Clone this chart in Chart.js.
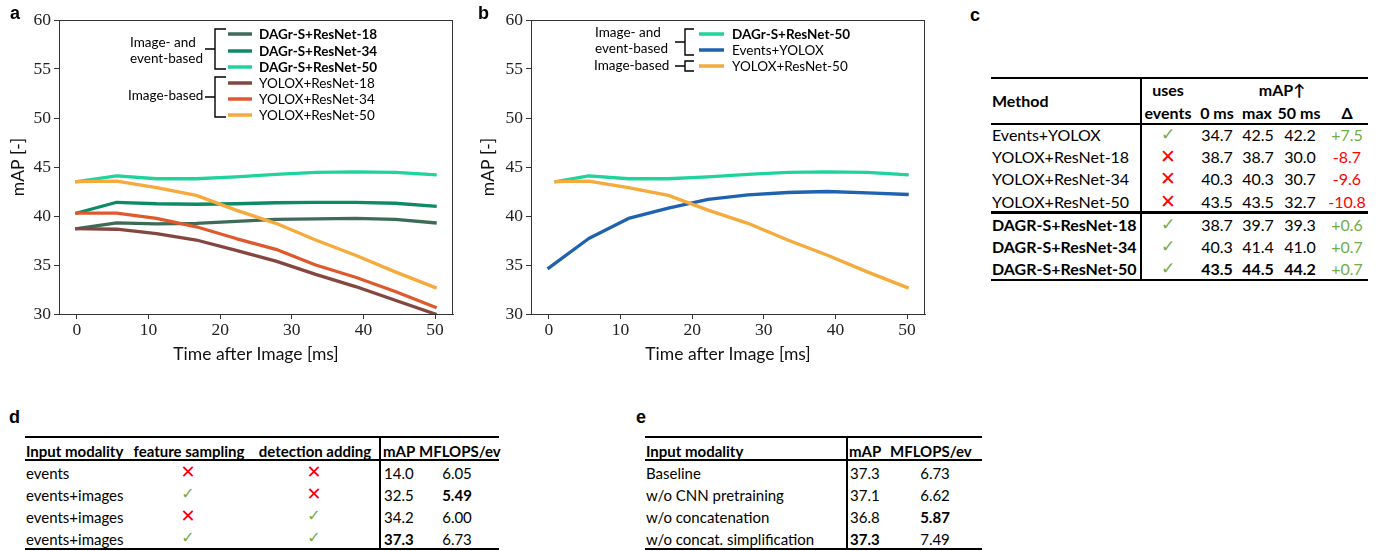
<!DOCTYPE html>
<html><head><meta charset="utf-8">
<script src="https://cdn.jsdelivr.net/npm/chart.js@4.4.0/dist/chart.umd.min.js"></script>
<style>
html,body{margin:0;padding:0;background:#fff}
body{width:1381px;height:551px;overflow:hidden;position:relative;font-family:Lato,"Open Sans",sans-serif;color:#000}
canvas{position:absolute;top:0}
.t{position:absolute;white-space:nowrap;line-height:1;transform:translateY(-50%)}
.c{transform:translate(-50%,-50%)}
.b{font-weight:bold}
.ln{position:absolute;background:#000}
.lbl{position:absolute;font-family:"Liberation Sans",Arial,sans-serif;font-weight:bold;font-size:18px;line-height:1;transform:translateY(-50%)}
.ok{color:#70ad47;font-family:"DejaVu Sans",sans-serif}
.no{color:#ff0000;font-family:"DejaVu Sans",sans-serif}
</style>
</head><body>
<canvas id="ca" width="470" height="372" style="left:0px"></canvas>
<canvas id="cb" width="470" height="372" style="left:470px"></canvas>
<div id="tables"></div>
<script>
// ---------------- DATA ----------------
const timeTicks = [0, 10, 20, 30, 40, 50];
const mapTicks = [30, 35, 40, 45, 50, 55, 60];
const times = [0, 5.56, 11.11, 16.67, 22.22, 27.78, 33.33, 38.89, 44.44, 50];
const timesBShifted = [1, 5.56, 11.11, 16.67, 22.22, 27.78, 33.33, 38.89, 44.44, 50];
const dagrResNet18 = [38.7, 39.3, 39.2, 39.25, 39.45, 39.65, 39.7, 39.75, 39.65, 39.3];
const dagrResNet34 = [40.3, 41.4, 41.25, 41.2, 41.25, 41.35, 41.4, 41.4, 41.3, 41.0];
const dagrResNet50 = [43.5, 44.1, 43.8, 43.8, 44.0, 44.25, 44.45, 44.5, 44.45, 44.2];
const yoloxResNet18 = [38.7, 38.65, 38.2, 37.55, 36.5, 35.4, 34.05, 32.8, 31.4, 30.0];
const yoloxResNet34 = [40.3, 40.3, 39.75, 38.9, 37.7, 36.6, 35.0, 33.75, 32.3, 30.7];
const yoloxResNet50 = [43.5, 43.55, 42.9, 42.1, 40.6, 39.25, 37.55, 36.0, 34.3, 32.7];
const eventsYolox = [34.7, 37.7, 39.75, 40.8, 41.7, 42.15, 42.4, 42.5, 42.35, 42.2];

// table c
const tcMethods = ['Events+YOLOX','YOLOX+ResNet-18','YOLOX+ResNet-34','YOLOX+ResNet-50','DAGR-S+ResNet-18','DAGR-S+ResNet-34','DAGR-S+ResNet-50'];
const tcUsesEvents = [true,false,false,false,true,true,true];
const tcMap0 = ['34.7','38.7','40.3','43.5','38.7','40.3','43.5'];
const tcMapMax = ['42.5','38.7','40.3','43.5','39.7','41.4','44.5'];
const tcMap50 = ['42.2','30.0','30.7','32.7','39.3','41.0','44.2'];
const tcDelta = ['+7.5','-8.7','-9.6','-10.8','+0.6','+0.7','+0.7'];
// table d
const tdModality = ['events','events+images','events+images','events+images'];
const tdFeatureSampling = [false,true,false,true];
const tdDetectionAdding = [false,false,true,true];
const tdMap = ['14.0','32.5','34.2','37.3'];
const tdMflops = ['6.05','5.49','6.00','6.73'];
// table e
const teVariant = ['Baseline','w/o CNN pretraining','w/o concatenation','w/o concat. simplification'];
const teMap = ['37.3','37.1','36.8','37.3'];
const teMflops = ['6.73','6.62','5.87','7.49'];

// ---------------- COLOURS ----------------
const C = {
  d18:'#3e6b58', d34:'#0f8a66', d50:'#20d29b',
  y18:'#84463f', y34:'#e0592e', y50:'#f5aa3b', ev:'#1f62b0'
};

// ---------------- PLUGINS ----------------
const frame = {
  id:'frame',
  afterDatasetsDraw(chart){
    const {ctx, chartArea:a} = chart;
    ctx.save();
    ctx.strokeStyle='#333'; ctx.lineWidth=1;
    ctx.strokeRect(Math.round(a.left)+0.5, Math.round(a.top)+0.5, Math.round(a.right-a.left)-1, Math.round(a.bottom-a.top));
    ctx.restore();
  }
};
const bracketLegend = {
  id:'bracketLegend',
  afterDraw(chart, args, o){
    if(!o || !o.groups) return;
    const ctx = chart.ctx;
    ctx.save();
    ctx.textBaseline='middle'; ctx.textAlign='left';
    o.groups.forEach(g=>{
      ctx.fillStyle='#000';
      ctx.font = o.fontSize+'px Lato';
      g.text.forEach((t,i)=>ctx.fillText(t, g.textX, g.textY[i]));
      ctx.strokeStyle='#000'; ctx.lineWidth=1.4;
      ctx.beginPath();
      ctx.moveTo(g.tickEnd, g.y1); ctx.lineTo(g.bx, g.y1); ctx.lineTo(g.bx, g.y2); ctx.lineTo(g.tickEnd, g.y2);
      const m = g.mid !== undefined ? g.mid : (g.y1+g.y2)/2;
      ctx.moveTo(g.bx-10, m); ctx.lineTo(g.bx, m);
      ctx.stroke();
    });
    o.entries.forEach(e=>{
      const ds = chart.data.datasets[e.ds];
      ctx.strokeStyle = ds.borderColor; ctx.lineWidth = 3.5; ctx.lineCap='butt';
      ctx.beginPath(); ctx.moveTo(o.lineX1, e.y); ctx.lineTo(o.lineX2, e.y); ctx.stroke();
      ctx.fillStyle='#000';
      ctx.font = (e.bold?'bold ':'') + o.fontSize+'px Lato';
      ctx.fillText(ds.label, o.textX, e.y+0.5);
    });
    ctx.restore();
  }
};

function series(label, xs, ys, color){
  return {label, data: xs.map((x,i)=>({x, y: ys[i]})), borderColor: color, backgroundColor: color,
    borderWidth: 3.3, pointRadius: 0, borderCapStyle:'square', borderJoinStyle:'round', tension:0, fill:false};
}

function makeChart(id, datasets, yAxisWidth, padRight, legendOpts){
  return new Chart(document.getElementById(id), {
    type:'line',
    data:{datasets},
    plugins:[frame, bracketLegend],
    options:{
      responsive:false, animation:false, events:[],
      layout:{padding:{left:0, top:20, right:padRight, bottom:0}},
      plugins:{legend:{display:false}, tooltip:{enabled:false}, bracketLegend:legendOpts},
      scales:{
        x:{type:'linear', min:-2.5, max:52.5,
          afterBuildTicks:(s)=>{ s.ticks = timeTicks.map(v=>({value:v})); },
          afterFit:(s)=>{ s.height = 58; },
          grid:{display:true, drawOnChartArea:false, drawTicks:true, tickLength:5, color:'#333', tickColor:'#333'},
          border:{display:true, color:'#333', width:1},
          ticks:{font:{family:'"Liberation Serif", serif', size:17.5}, color:'#222', padding:1, maxRotation:0, autoSkip:false},
          title:{display:true, text:'Time after Image [ms]', font:{family:'Lato', size:17.5}, color:'#111', padding:{top:0, bottom:7}}
        },
        y:{type:'linear', min:30, max:60,
          afterBuildTicks:(s)=>{ s.ticks = mapTicks.map(v=>({value:v})); },
          afterFit:(s)=>{ s.width = yAxisWidth; },
          grid:{display:true, drawOnChartArea:false, drawTicks:true, tickLength:5, color:'#333', tickColor:'#333'},
          border:{display:true, color:'#333', width:1},
          ticks:{font:{family:'"Liberation Serif", serif', size:17.5}, color:'#222', padding:3},
          title:{display:true, text:'mAP [-]', font:{family:'Lato', size:17.5}, color:'#111', padding:{top:8, bottom:0}}
        }
      }
    }
  });
}

// Panel a
makeChart('ca', [
  series('YOLOX+ResNet-50', times, yoloxResNet50, C.y50),
  series('YOLOX+ResNet-34', times, yoloxResNet34, C.y34),
  series('YOLOX+ResNet-18', times, yoloxResNet18, C.y18),
  series('DAGr-S+ResNet-50', times, dagrResNet50, C.d50),
  series('DAGr-S+ResNet-34', times, dagrResNet34, C.d34),
  series('DAGr-S+ResNet-18', times, dagrResNet18, C.d18)
], 59, 17, {
  fontSize: 13.5, lineX1: 228, lineX2: 252, textX: 259,
  groups:[
    {text:['Image- and','event-based'], textX:130, textY:[43,59], bx:215, y1:29, y2:69, tickEnd:226},
    {text:['Image-based'], textX:128, textY:[96], bx:215, y1:77, y2:117, tickEnd:226}
  ],
  entries:[
    {ds:5, y:34, bold:true},{ds:4, y:51, bold:true},{ds:3, y:67, bold:true},
    {ds:2, y:83},{ds:1, y:99},{ds:0, y:115}
  ]
});

// Panel b
makeChart('cb', [
  series('YOLOX+ResNet-50', timesBShifted, yoloxResNet50, C.y50),
  series('DAGr-S+ResNet-50', timesBShifted, dagrResNet50, C.d50),
  series('Events+YOLOX', times, eventsYolox, C.ev)
], 61, 15, {
  fontSize: 13.5, lineX1: 229, lineX2: 254, textX: 262,
  groups:[
    {text:['Image- and','event-based'], textX:125, textY:[33,49], bx:215, y1:29, y2:55, tickEnd:224},
    {text:['Image-based'], textX:124, textY:[66], bx:215, y1:61, y2:71, tickEnd:224}
  ],
  entries:[
    {ds:1, y:34, bold:true},{ds:2, y:50},{ds:0, y:66}
  ]
});

// ---------------- TABLES ----------------
const host = document.getElementById('tables');
function txt(x, y, s, cls, size, color){
  const d = document.createElement('div');
  d.className = 't ' + (cls||'');
  d.style.left = x+'px'; d.style.top = y+'px';
  d.style.fontSize = (size||16)+'px';
  if(color) d.style.color = color;
  d.textContent = s;
  host.appendChild(d);
}
function hl(x1,x2,y,w){ const d=document.createElement('div'); d.className='ln'; d.style.left=x1+'px'; d.style.width=(x2-x1)+'px'; d.style.top=(y-w/2)+'px'; d.style.height=w+'px'; host.appendChild(d); }
function vl(x,y1,y2,w){ const d=document.createElement('div'); d.className='ln'; d.style.left=(x-w/2)+'px'; d.style.width=w+'px'; d.style.top=y1+'px'; d.style.height=(y2-y1)+'px'; host.appendChild(d); }
function lbl(x,y,s){ const d=document.createElement('div'); d.className='lbl'; d.style.left=x+'px'; d.style.top=y+'px'; d.textContent=s; document.body.appendChild(d); }
function mark(x,y,ok,size){ txt(x,y, ok?'✓':'✕', 'c '+(ok?'ok':'no'), ok?size:size+2); }

lbl(10,13,'a'); lbl(478,13,'b'); lbl(970,15,'c'); lbl(9,417,'d'); lbl(636,417,'e');

// Table c
(function(){
  const fs = 16;
  hl(991,1368,78,2.2); hl(991,1368,124,2.2); hl(991,1368,212.5,2.2); hl(991,1368,280,2.2);
  vl(1141,77,281,2.2);
  txt(992,101,'Method','b',fs);
  txt(1168,90,'uses','c b',fs);
  txt(1282,90,'mAP↑','c b',fs);
  txt(1168,113,'events','c b',fs);
  txt(1217,113,'0 ms','c b',fs);
  txt(1257,113,'max','c b',fs);
  txt(1299,113,'50 ms','c b',fs);
  txt(1347,113,'Δ','c b',fs);
  const ys = [135,157,179,202,225,247,269];
  tcMethods.forEach((m,i)=>{
    const y = ys[i]; const bm = i>=4; const bv = i===6;
    txt(992,y,m,bm?'b':'',fs);
    mark(1168,y-1,tcUsesEvents[i],17);
    txt(1217,y,tcMap0[i],'c'+(bv?' b':''),fs);
    txt(1258,y,tcMapMax[i],'c'+(bv?' b':''),fs);
    txt(1300,y,tcMap50[i],'c'+(bv?' b':''),fs);
    txt(1347,y,tcDelta[i],'c',fs, tcDelta[i][0]==='+'?'#70ad47':'#ff0000');
  });
})();

// Table d
(function(){
  const fs = 15;
  hl(25,499,437,2.2); hl(25,499,460,2.2); hl(25,499,549,2.2);
  vl(380,436,550,2.2);
  txt(26,451,'Input modality','b',fs);
  txt(189,451,'feature sampling','c b',fs);
  txt(315,451,'detection adding','c b',fs);
  txt(383,451,'mAP','b',fs);
  txt(419,451,'MFLOPS/ev','b',fs);
  const ys=[473,495,517,539];
  tdModality.forEach((m,i)=>{
    const y=ys[i];
    txt(26,y,m,'',fs);
    mark(188,y-1,tdFeatureSampling[i],16);
    mark(314,y-1,tdDetectionAdding[i],16);
    txt(384,y,tdMap[i],tdMap[i]==='37.3'?'b':'',fs);
    txt(457,y,tdMflops[i],'c'+(tdMflops[i]==='5.49'?' b':''),fs);
  });
})();

// Table e
(function(){
  const fs = 15;
  hl(645,982,437,2.2); hl(645,982,460,2.2); hl(645,982,549,2.2);
  vl(847,436,550,2.2);
  txt(646,451,'Input modality','b',fs);
  txt(849,451,'mAP','b',fs);
  txt(890,451,'MFLOPS/ev','b',fs);
  const ys=[473,495,517,539];
  teVariant.forEach((m,i)=>{
    const y=ys[i];
    txt(646,y,m,'',fs);
    txt(850,y,teMap[i],i===3?'b':'',fs);
    txt(935,y,teMflops[i],'c'+(teMflops[i]==='5.87'?' b':''),fs);
  });
})();
</script>
</body></html>
